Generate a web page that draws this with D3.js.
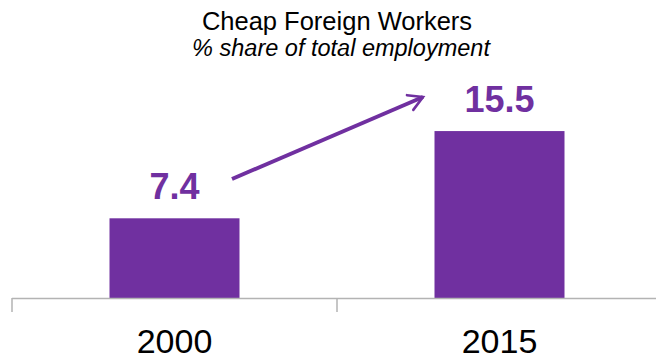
<!DOCTYPE html>
<html><head><meta charset="utf-8">
<script src="https://cdn.jsdelivr.net/npm/d3@7"></script>
<style>body{margin:0;background:#fff}svg{display:block}</style>
</head><body>
<script>
const categories = ["2000", "2015"];
const values = [7.4, 15.5];
const title = "Cheap Foreign Workers";
const subtitle = "% share of total employment";

const W = 656, H = 359;
const purple = "#7030A0";
const svg = d3.select("body").append("svg").attr("width", W).attr("height", H);

const x = d3.scaleBand().domain(categories).range([12, 662]).paddingInner(0).paddingOuter(0);
const barW = x.bandwidth() * 0.4;
const y = d3.scaleLinear().domain([0, 20]).range([298, 82.6]);

svg.append("text").attr("x", 337).attr("y", 30).attr("text-anchor", "middle")
  .attr("font-family", "Liberation Sans, Arial, sans-serif").attr("font-size", 25.5).attr("fill", "#000").text(title);
svg.append("text").attr("x", 341).attr("y", 56).attr("text-anchor", "middle")
  .attr("font-family", "Liberation Sans, Arial, sans-serif").attr("font-size", 23.5).attr("font-style", "italic").attr("fill", "#000").text(subtitle);

svg.selectAll("rect.bar").data(values).enter().append("rect").attr("class", "bar")
  .attr("x", (d, i) => x(categories[i]) + (x.bandwidth() - barW) / 2)
  .attr("width", barW)
  .attr("y", d => y(d))
  .attr("height", d => y(0) - y(d))
  .attr("fill", purple);

svg.selectAll("text.val").data(values).enter().append("text").attr("class", "val")
  .attr("x", (d, i) => x(categories[i]) + x.bandwidth() / 2)
  .attr("y", d => y(d) - 19)
  .attr("text-anchor", "middle")
  .attr("font-family", "Liberation Sans, Arial, sans-serif").attr("font-weight", "bold")
  .attr("font-size", 36).attr("fill", purple)
  .text(d => d.toFixed(1));

// axis
const axisG = svg.append("g").attr("transform", `translate(0,${y(0)})`);
axisG.append("line").attr("x1", 12).attr("x2", W).attr("y1", 0.5).attr("y2", 0.5).attr("stroke", "#b3b3b3").attr("stroke-width", 1.5);
const tickXs = categories.map(c => x(c)).concat([x.range()[1]]);
axisG.selectAll("line.tick").data(tickXs).enter().append("line").attr("class", "tick")
  .attr("x1", d => d).attr("x2", d => d).attr("y1", 0).attr("y2", 14)
  .attr("stroke", "#b3b3b3").attr("stroke-width", 1.5);
axisG.selectAll("text.cat").data(categories).enter().append("text").attr("class", "cat")
  .attr("x", d => x(d) + x.bandwidth() / 2).attr("y", 55)
  .attr("text-anchor", "middle")
  .attr("font-family", "Liberation Sans, Arial, sans-serif").attr("font-size", 34).attr("fill", "#000")
  .text(d => d);

// arrow
const defs = svg.append("defs");
defs.append("marker").attr("id", "ah").attr("viewBox", "0 0 10 10").attr("refX", 8).attr("refY", 5)
  .attr("markerWidth", 5).attr("markerHeight", 5).attr("markerUnits", "strokeWidth").attr("orient", "auto")
  .append("path").attr("d", "M1,1 L8,5 L1,9").attr("fill", "none").attr("stroke", purple).attr("stroke-width", 1.3).attr("stroke-linecap", "round");
svg.append("line").attr("x1", 232).attr("y1", 179).attr("x2", 423).attr("y2", 97)
  .attr("stroke", purple).attr("stroke-width", 4).attr("marker-end", "url(#ah)");
</script>
</body></html>
